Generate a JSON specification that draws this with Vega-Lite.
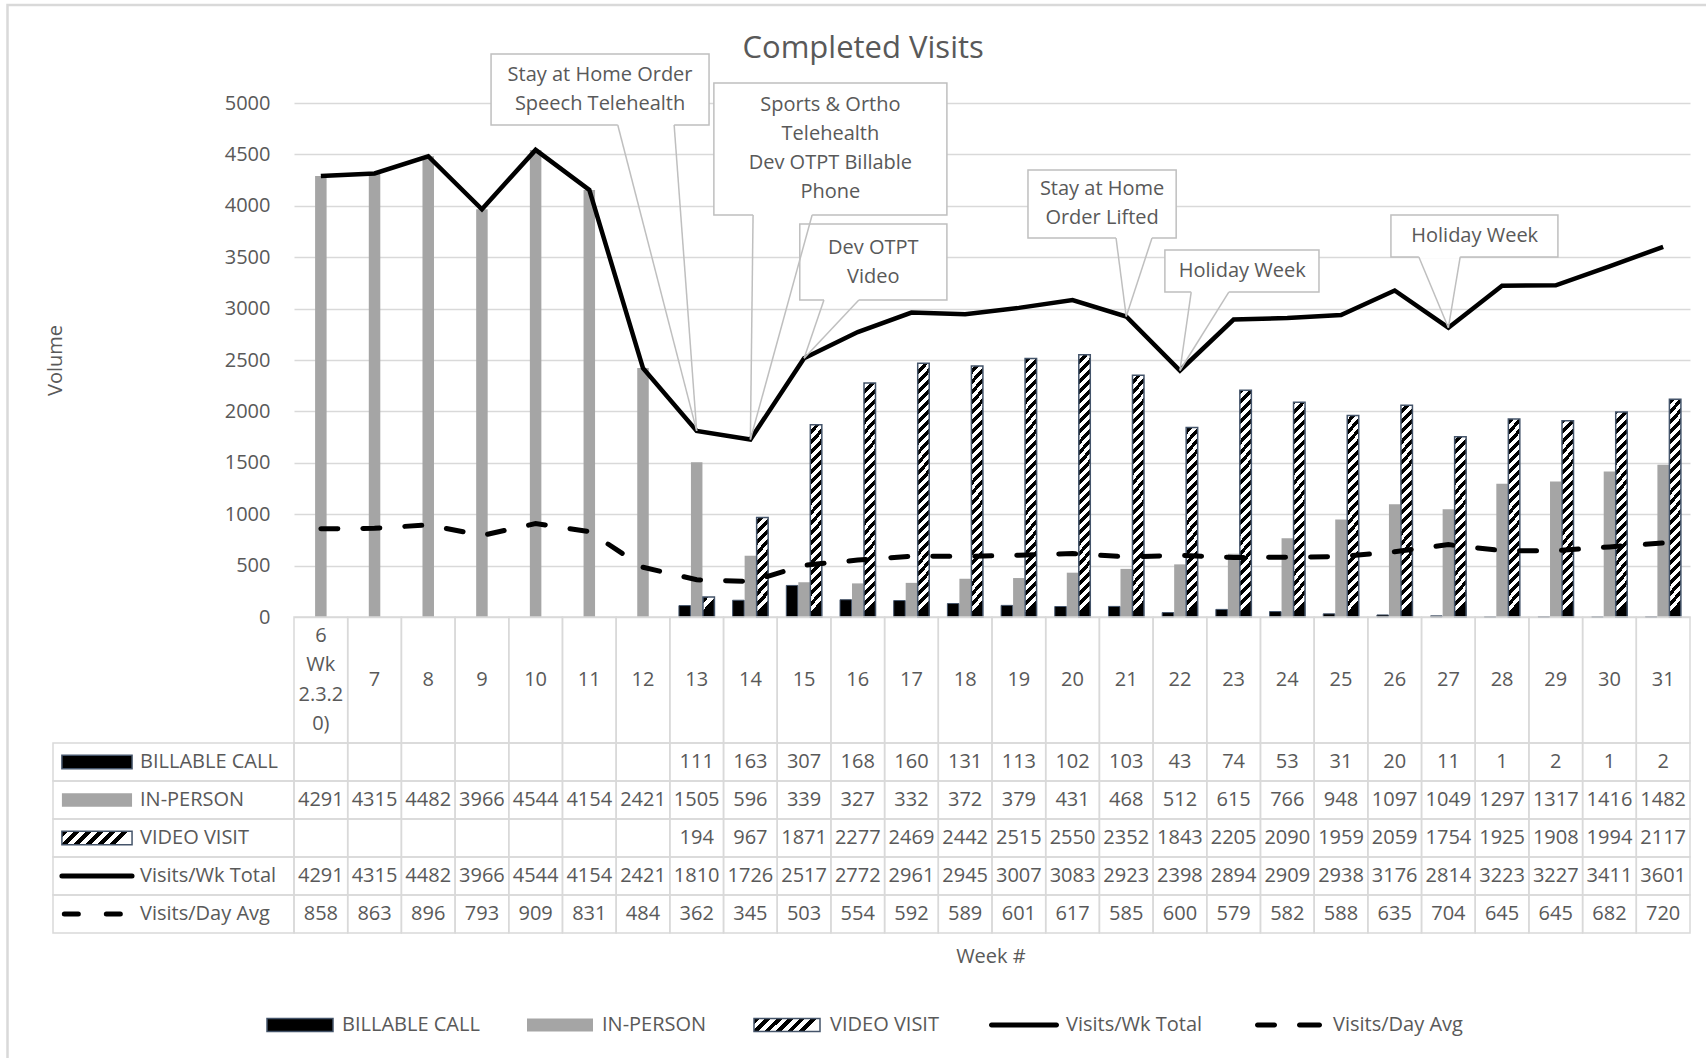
{
"$schema": "https://vega.github.io/schema/vega-lite/v6.json",
"width": 1396,
"height": 514,
"autosize": {"type": "none"},
"padding": {"left": 294, "top": 103, "right": 16, "bottom": 441},
"background": "#ffffff",
"config": {"view": {"stroke": null}, "font": "Open Sans"},
"datasets": {
"weeks": [
{"week":6,"label":"6|Wk|2.3.2|0)","inperson":4291,"total":4291,"avg":858},
{"week":7,"label":"7","inperson":4315,"total":4315,"avg":863},
{"week":8,"label":"8","inperson":4482,"total":4482,"avg":896},
{"week":9,"label":"9","inperson":3966,"total":3966,"avg":793},
{"week":10,"label":"10","inperson":4544,"total":4544,"avg":909},
{"week":11,"label":"11","inperson":4154,"total":4154,"avg":831},
{"week":12,"label":"12","inperson":2421,"total":2421,"avg":484},
{"week":13,"label":"13","billable":111,"inperson":1505,"video":194,"total":1810,"avg":362},
{"week":14,"label":"14","billable":163,"inperson":596,"video":967,"total":1726,"avg":345},
{"week":15,"label":"15","billable":307,"inperson":339,"video":1871,"total":2517,"avg":503},
{"week":16,"label":"16","billable":168,"inperson":327,"video":2277,"total":2772,"avg":554},
{"week":17,"label":"17","billable":160,"inperson":332,"video":2469,"total":2961,"avg":592},
{"week":18,"label":"18","billable":131,"inperson":372,"video":2442,"total":2945,"avg":589},
{"week":19,"label":"19","billable":113,"inperson":379,"video":2515,"total":3007,"avg":601},
{"week":20,"label":"20","billable":102,"inperson":431,"video":2550,"total":3083,"avg":617},
{"week":21,"label":"21","billable":103,"inperson":468,"video":2352,"total":2923,"avg":585},
{"week":22,"label":"22","billable":43,"inperson":512,"video":1843,"total":2398,"avg":600},
{"week":23,"label":"23","billable":74,"inperson":615,"video":2205,"total":2894,"avg":579},
{"week":24,"label":"24","billable":53,"inperson":766,"video":2090,"total":2909,"avg":582},
{"week":25,"label":"25","billable":31,"inperson":948,"video":1959,"total":2938,"avg":588},
{"week":26,"label":"26","billable":20,"inperson":1097,"video":2059,"total":3176,"avg":635},
{"week":27,"label":"27","billable":11,"inperson":1049,"video":1754,"total":2814,"avg":704},
{"week":28,"label":"28","billable":1,"inperson":1297,"video":1925,"total":3223,"avg":645},
{"week":29,"label":"29","billable":2,"inperson":1317,"video":1908,"total":3227,"avg":645},
{"week":30,"label":"30","billable":1,"inperson":1416,"video":1994,"total":3411,"avg":682},
{"week":31,"label":"31","billable":2,"inperson":1482,"video":2117,"total":3601,"avg":720}
],
"rows": [
{"series":"billable","name":"BILLABLE CALL"},
{"series":"inperson","name":"IN-PERSON"},
{"series":"video","name":"VIDEO VISIT"},
{"series":"total","name":"Visits/Wk Total"},
{"series":"avg","name":"Visits/Day Avg"}
],
"notes": [
{"text":"Stay at Home Order|Speech Telehealth","x0":9.17,"x1":13.23,"yt":5477,"yb":4786,"p1":11.53,"p2":12.58,"tw":13,"tv":1810,"xc":11.2,"ty":5272},
{"text":"Sports & Ortho|Telehealth|Dev OTPT Billable|Phone","x0":13.32,"x1":17.66,"yt":5195,"yb":3911,"p1":14.05,"p2":15.15,"tw":14,"tv":1726,"xc":15.49,"ty":4976},
{"text":"Dev OTPT|Video","x0":14.92,"x1":17.66,"yt":3823,"yb":3084,"p1":15.37,"p2":16.02,"tw":15,"tv":2517,"xc":16.29,"ty":3594},
{"text":"Stay at Home|Order Lifted","x0":19.17,"x1":21.93,"yt":4348,"yb":3687,"p1":20.81,"p2":21.48,"tw":21,"tv":2923,"xc":20.55,"ty":4159},
{"text":"Holiday Week","x0":21.72,"x1":24.59,"yt":3570,"yb":3161,"p1":22.21,"p2":22.91,"tw":22,"tv":2398,"xc":23.16,"ty":3366},
{"text":"Holiday Week","x0":25.93,"x1":29.04,"yt":3911,"yb":3502,"p1":26.45,"p2":27.22,"tw":27,"tv":2814,"xc":27.49,"ty":3706}
]
},
"resolve": {"scale": {"x": "independent", "y": "independent"}},
"layer": [
{
"data": {"name": "weeks"},
"mark": {"type": "bar", "width": 11.5, "fill": "#a5a5a5"},
"encoding": {
"x": {"field": "week", "type": "ordinal", "scale": {"type": "point", "domain": [6,7,8,9,10,11,12,13,14,15,16,17,18,19,20,21,22,23,24,25,26,27,28,29,30,31], "padding": 0.5}, "axis": null},
"y": {"field": "inperson", "type": "quantitative", "scale": {"domain": [0, 5000], "nice": false},
"axis": {"values": [0,500,1000,1500,2000,2500,3000,3500,4000,4500,5000], "format": "d", "grid": true, "gridColor": "#d9d9d9", "gridWidth": 1.5, "domain": false, "ticks": false, "tickSize": 0, "labelPadding": 24, "labelFont": "Open Sans", "labelFontSize": 20, "labelColor": "#595959", "title": "Volume", "titleFont": "Open Sans", "titleFontSize": 20, "titleFontWeight": "normal", "titleColor": "#595959", "titlePadding": 159}}
}
},
{
"data": {"name": "weeks"},
"mark": {"type": "bar", "width": 11.5, "xOffset": -12, "fill": "#000000", "stroke": "#44546a", "strokeWidth": 1},
"encoding": {
"x": {"field": "week", "type": "ordinal", "scale": {"type": "point", "domain": [6,7,8,9,10,11,12,13,14,15,16,17,18,19,20,21,22,23,24,25,26,27,28,29,30,31], "padding": 0.5}, "axis": null},
"y": {"field": "billable", "type": "quantitative", "scale": {"domain": [0, 5000], "nice": false}, "axis": null}
}
},
{
"data": {"name": "weeks"},
"mark": {"type": "bar", "width": 11.5, "xOffset": 12, "stroke": "#44546a", "strokeWidth": 1.5,
"fill": {"expr": "{gradient:'linear',x1:0,y1:1,x2:-117/datum.video,y2:0,stops:[{offset:0,color:'#000'},{offset:min(1,49/datum.video),color:'#000'},{offset:min(1,49/datum.video),color:'#fff'},{offset:min(1,98/datum.video),color:'#fff'},{offset:min(1,98/datum.video),color:'#000'},{offset:min(1,147/datum.video),color:'#000'},{offset:min(1,147/datum.video),color:'#fff'},{offset:min(1,196/datum.video),color:'#fff'},{offset:min(1,196/datum.video),color:'#000'},{offset:min(1,245/datum.video),color:'#000'},{offset:min(1,245/datum.video),color:'#fff'},{offset:min(1,294/datum.video),color:'#fff'},{offset:min(1,294/datum.video),color:'#000'},{offset:min(1,343/datum.video),color:'#000'},{offset:min(1,343/datum.video),color:'#fff'},{offset:min(1,392/datum.video),color:'#fff'},{offset:min(1,392/datum.video),color:'#000'},{offset:min(1,441/datum.video),color:'#000'},{offset:min(1,441/datum.video),color:'#fff'},{offset:min(1,490/datum.video),color:'#fff'},{offset:min(1,490/datum.video),color:'#000'},{offset:min(1,539/datum.video),color:'#000'},{offset:min(1,539/datum.video),color:'#fff'},{offset:min(1,588/datum.video),color:'#fff'},{offset:min(1,588/datum.video),color:'#000'},{offset:min(1,637/datum.video),color:'#000'},{offset:min(1,637/datum.video),color:'#fff'},{offset:min(1,686/datum.video),color:'#fff'},{offset:min(1,686/datum.video),color:'#000'},{offset:min(1,735/datum.video),color:'#000'},{offset:min(1,735/datum.video),color:'#fff'},{offset:min(1,784/datum.video),color:'#fff'},{offset:min(1,784/datum.video),color:'#000'},{offset:min(1,833/datum.video),color:'#000'},{offset:min(1,833/datum.video),color:'#fff'},{offset:min(1,882/datum.video),color:'#fff'},{offset:min(1,882/datum.video),color:'#000'},{offset:min(1,931/datum.video),color:'#000'},{offset:min(1,931/datum.video),color:'#fff'},{offset:min(1,980/datum.video),color:'#fff'},{offset:min(1,980/datum.video),color:'#000'},{offset:min(1,1029/datum.video),color:'#000'},{offset:min(1,1029/datum.video),color:'#fff'},{offset:min(1,1078/datum.video),color:'#fff'},{offset:min(1,1078/datum.video),color:'#000'},{offset:min(1,1127/datum.video),color:'#000'},{offset:min(1,1127/datum.video),color:'#fff'},{offset:min(1,1176/datum.video),color:'#fff'},{offset:min(1,1176/datum.video),color:'#000'},{offset:min(1,1225/datum.video),color:'#000'},{offset:min(1,1225/datum.video),color:'#fff'},{offset:min(1,1274/datum.video),color:'#fff'},{offset:min(1,1274/datum.video),color:'#000'},{offset:min(1,1323/datum.video),color:'#000'},{offset:min(1,1323/datum.video),color:'#fff'},{offset:min(1,1372/datum.video),color:'#fff'},{offset:min(1,1372/datum.video),color:'#000'},{offset:min(1,1421/datum.video),color:'#000'},{offset:min(1,1421/datum.video),color:'#fff'},{offset:min(1,1470/datum.video),color:'#fff'},{offset:min(1,1470/datum.video),color:'#000'},{offset:min(1,1519/datum.video),color:'#000'},{offset:min(1,1519/datum.video),color:'#fff'},{offset:min(1,1568/datum.video),color:'#fff'},{offset:min(1,1568/datum.video),color:'#000'},{offset:min(1,1617/datum.video),color:'#000'},{offset:min(1,1617/datum.video),color:'#fff'},{offset:min(1,1666/datum.video),color:'#fff'},{offset:min(1,1666/datum.video),color:'#000'},{offset:min(1,1715/datum.video),color:'#000'},{offset:min(1,1715/datum.video),color:'#fff'},{offset:min(1,1764/datum.video),color:'#fff'},{offset:min(1,1764/datum.video),color:'#000'},{offset:min(1,1813/datum.video),color:'#000'},{offset:min(1,1813/datum.video),color:'#fff'},{offset:min(1,1862/datum.video),color:'#fff'},{offset:min(1,1862/datum.video),color:'#000'},{offset:min(1,1911/datum.video),color:'#000'},{offset:min(1,1911/datum.video),color:'#fff'},{offset:min(1,1960/datum.video),color:'#fff'},{offset:min(1,1960/datum.video),color:'#000'},{offset:min(1,2009/datum.video),color:'#000'},{offset:min(1,2009/datum.video),color:'#fff'},{offset:min(1,2058/datum.video),color:'#fff'},{offset:min(1,2058/datum.video),color:'#000'},{offset:min(1,2107/datum.video),color:'#000'},{offset:min(1,2107/datum.video),color:'#fff'},{offset:min(1,2156/datum.video),color:'#fff'},{offset:min(1,2156/datum.video),color:'#000'},{offset:min(1,2205/datum.video),color:'#000'},{offset:min(1,2205/datum.video),color:'#fff'},{offset:min(1,2254/datum.video),color:'#fff'},{offset:min(1,2254/datum.video),color:'#000'},{offset:min(1,2303/datum.video),color:'#000'},{offset:min(1,2303/datum.video),color:'#fff'},{offset:min(1,2352/datum.video),color:'#fff'},{offset:min(1,2352/datum.video),color:'#000'},{offset:min(1,2401/datum.video),color:'#000'},{offset:min(1,2401/datum.video),color:'#fff'},{offset:min(1,2450/datum.video),color:'#fff'},{offset:min(1,2450/datum.video),color:'#000'},{offset:min(1,2499/datum.video),color:'#000'},{offset:min(1,2499/datum.video),color:'#fff'},{offset:min(1,2548/datum.video),color:'#fff'},{offset:min(1,2548/datum.video),color:'#000'},{offset:1,color:'#000'}]}"}},
"encoding": {
"x": {"field": "week", "type": "ordinal", "scale": {"type": "point", "domain": [6,7,8,9,10,11,12,13,14,15,16,17,18,19,20,21,22,23,24,25,26,27,28,29,30,31], "padding": 0.5}, "axis": null},
"y": {"field": "video", "type": "quantitative", "scale": {"domain": [0, 5000], "nice": false}, "axis": null}
}
},
{
"data": {"name": "weeks"},
"mark": {"type": "line", "stroke": "#000000", "strokeWidth": 4.5},
"encoding": {
"x": {"field": "week", "type": "ordinal", "scale": {"type": "point", "domain": [6,7,8,9,10,11,12,13,14,15,16,17,18,19,20,21,22,23,24,25,26,27,28,29,30,31], "padding": 0.5}, "axis": null},
"y": {"field": "total", "type": "quantitative", "scale": {"domain": [0, 5000], "nice": false}, "axis": null}
}
},
{
"data": {"name": "weeks"},
"mark": {"type": "line", "stroke": "#000000", "strokeWidth": 5, "strokeDash": [17, 25], "strokeCap": "round"},
"encoding": {
"x": {"field": "week", "type": "ordinal", "scale": {"type": "point", "domain": [6,7,8,9,10,11,12,13,14,15,16,17,18,19,20,21,22,23,24,25,26,27,28,29,30,31], "padding": 0.5}, "axis": null},
"y": {"field": "avg", "type": "quantitative", "scale": {"domain": [0, 5000], "nice": false}, "axis": null}
}
},
{
"data": {"name": "weeks"},
"mark": {"type": "rect", "fill": "transparent", "stroke": "#d9d9d9", "strokeWidth": 1.5},
"encoding": {
"x": {"field": "week", "type": "ordinal", "scale": {"type": "band", "domain": [6,7,8,9,10,11,12,13,14,15,16,17,18,19,20,21,22,23,24,25,26,27,28,29,30,31], "paddingInner": 0, "paddingOuter": 0}, "axis": null},
"y": {"datum": "h", "type": "nominal", "scale": {"type": "band", "domain": ["h"], "range": [514, 640], "paddingInner": 0, "paddingOuter": 0}, "axis": null}
}
},
{
"data": {"name": "weeks"},
"mark": {"type": "text", "font": "Open Sans", "fontSize": 20, "fill": "#595959", "align": "center", "baseline": "middle", "lineBreak": "|", "lineHeight": 29.5, "dy": {"expr": "datum.week == 6 ? -44.25 : 0"}},
"encoding": {
"x": {"field": "week", "type": "ordinal", "scale": {"type": "point", "domain": [6,7,8,9,10,11,12,13,14,15,16,17,18,19,20,21,22,23,24,25,26,27,28,29,30,31], "padding": 0.5}, "axis": null},
"y": {"datum": "h", "type": "nominal", "scale": {"type": "point", "domain": ["h"], "range": [514, 640], "padding": 0.5}, "axis": null},
"text": {"field": "label", "type": "nominal"}
}
},
{
"data": {"name": "weeks"},
"transform": [{"fold": ["billable", "inperson", "video", "total", "avg"], "as": ["series", "value"]}],
"mark": {"type": "rect", "fill": "transparent", "stroke": "#d9d9d9", "strokeWidth": 1.5},
"encoding": {
"x": {"field": "week", "type": "ordinal", "scale": {"type": "band", "domain": [6,7,8,9,10,11,12,13,14,15,16,17,18,19,20,21,22,23,24,25,26,27,28,29,30,31], "paddingInner": 0, "paddingOuter": 0}, "axis": null},
"y": {"field": "series", "type": "nominal", "scale": {"type": "band", "domain": ["billable", "inperson", "video", "total", "avg"], "range": [640, 830], "paddingInner": 0, "paddingOuter": 0}, "axis": null}
}
},
{
"data": {"name": "weeks"},
"transform": [{"fold": ["billable", "inperson", "video", "total", "avg"], "as": ["series", "value"]}, {"filter": {"field": "value", "valid": true}}],
"mark": {"type": "text", "font": "Open Sans", "fontSize": 20, "fill": "#595959", "align": "center", "baseline": "middle"},
"encoding": {
"x": {"field": "week", "type": "ordinal", "scale": {"type": "point", "domain": [6,7,8,9,10,11,12,13,14,15,16,17,18,19,20,21,22,23,24,25,26,27,28,29,30,31], "padding": 0.5}, "axis": null},
"y": {"field": "series", "type": "nominal", "scale": {"type": "point", "domain": ["billable", "inperson", "video", "total", "avg"], "range": [640, 830], "padding": 0.5}, "axis": null},
"text": {"field": "value", "type": "quantitative", "format": "d"}
}
},
{
"data": {"name": "rows"},
"mark": {"type": "rect", "fill": "transparent", "stroke": "#d9d9d9", "strokeWidth": 1.5},
"encoding": {
"x": {"datum": 0, "type": "quantitative", "scale": {"domain": [0, 1], "range": [-241, 0], "nice": false, "zero": false}, "axis": null},
"x2": {"datum": 1},
"y": {"field": "series", "type": "nominal", "scale": {"type": "band", "domain": ["billable", "inperson", "video", "total", "avg"], "range": [640, 830], "paddingInner": 0, "paddingOuter": 0}, "axis": null}
}
},
{
"data": {"name": "rows"},
"mark": {"type": "text", "font": "Open Sans", "fontSize": 20, "fill": "#595959", "align": "left", "baseline": "middle"},
"encoding": {
"x": {"datum": 0.361, "type": "quantitative", "scale": {"domain": [0, 1], "range": [-241, 0], "nice": false, "zero": false}, "axis": null},
"y": {"field": "series", "type": "nominal", "scale": {"type": "point", "domain": ["billable", "inperson", "video", "total", "avg"], "range": [640, 830], "padding": 0.5}, "axis": null},
"text": {"field": "name", "type": "nominal"}
}
},
{
"data": {"name": "rows"},
"transform": [{"filter": "datum.series == 'billable'"}],
"mark": {"type": "rect", "fill": "#000000", "stroke": "#44546a", "strokeWidth": 1.5},
"encoding": {
"x": {"datum": 0.037, "type": "quantitative", "scale": {"domain": [0, 1], "range": [-241, 0], "nice": false, "zero": false}, "axis": null},
"x2": {"datum": 0.328},
"y": {"field": "series", "type": "nominal", "scale": {"type": "band", "domain": ["billable", "inperson", "video", "total", "avg"], "range": [640, 830], "paddingInner": 0.65, "paddingOuter": 0.325}, "axis": null}
}
},
{
"data": {"name": "rows"},
"transform": [{"filter": "datum.series == 'inperson'"}],
"mark": {"type": "rect", "fill": "#a5a5a5"},
"encoding": {
"x": {"datum": 0.037, "type": "quantitative", "scale": {"domain": [0, 1], "range": [-241, 0], "nice": false, "zero": false}, "axis": null},
"x2": {"datum": 0.328},
"y": {"field": "series", "type": "nominal", "scale": {"type": "band", "domain": ["billable", "inperson", "video", "total", "avg"], "range": [640, 830], "paddingInner": 0.65, "paddingOuter": 0.325}, "axis": null}
}
},
{
"data": {"name": "rows"},
"transform": [{"filter": "datum.series == 'video'"}],
"mark": {"type": "rect", "stroke": "#44546a", "strokeWidth": 1.5,
"fill": {"gradient": "linear", "x1": 0, "y1": 0, "x2": 1, "y2": 0.19, "stops": [{"offset":0,"color":"#000"},{"offset":0.0833,"color":"#000"},{"offset":0.0833,"color":"#fff"},{"offset":0.1667,"color":"#fff"},{"offset":0.1667,"color":"#000"},{"offset":0.25,"color":"#000"},{"offset":0.25,"color":"#fff"},{"offset":0.3333,"color":"#fff"},{"offset":0.3333,"color":"#000"},{"offset":0.4167,"color":"#000"},{"offset":0.4167,"color":"#fff"},{"offset":0.5,"color":"#fff"},{"offset":0.5,"color":"#000"},{"offset":0.5833,"color":"#000"},{"offset":0.5833,"color":"#fff"},{"offset":0.6667,"color":"#fff"},{"offset":0.6667,"color":"#000"},{"offset":0.75,"color":"#000"},{"offset":0.75,"color":"#fff"},{"offset":0.8333,"color":"#fff"},{"offset":0.8333,"color":"#000"},{"offset":0.9167,"color":"#000"},{"offset":0.9167,"color":"#fff"},{"offset":1,"color":"#fff"}]}},
"encoding": {
"x": {"datum": 0.037, "type": "quantitative", "scale": {"domain": [0, 1], "range": [-241, 0], "nice": false, "zero": false}, "axis": null},
"x2": {"datum": 0.328},
"y": {"field": "series", "type": "nominal", "scale": {"type": "band", "domain": ["billable", "inperson", "video", "total", "avg"], "range": [640, 830], "paddingInner": 0.65, "paddingOuter": 0.325}, "axis": null}
}
},
{
"data": {"name": "rows"},
"transform": [{"filter": "datum.series == 'total'"}],
"mark": {"type": "rule", "stroke": "#000000", "strokeWidth": 5, "strokeCap": "round"},
"encoding": {
"x": {"datum": 0.037, "type": "quantitative", "scale": {"domain": [0, 1], "range": [-241, 0], "nice": false, "zero": false}, "axis": null},
"x2": {"datum": 0.328},
"y": {"field": "series", "type": "nominal", "scale": {"type": "point", "domain": ["billable", "inperson", "video", "total", "avg"], "range": [640, 830], "padding": 0.5}, "axis": null}
}
},
{
"data": {"name": "rows"},
"transform": [{"filter": "datum.series == 'avg'"}],
"mark": {"type": "rule", "stroke": "#000000", "strokeWidth": 5, "strokeCap": "round", "strokeDash": [14, 28]},
"encoding": {
"x": {"datum": 0.047, "type": "quantitative", "scale": {"domain": [0, 1], "range": [-241, 0], "nice": false, "zero": false}, "axis": null},
"x2": {"datum": 0.328},
"y": {"field": "series", "type": "nominal", "scale": {"type": "point", "domain": ["billable", "inperson", "video", "total", "avg"], "range": [640, 830], "padding": 0.5}, "axis": null}
}
},
{
"data": {"name": "notes"},
"mark": {"type": "rect", "fill": "#ffffff", "stroke": "#bfbfbf", "strokeWidth": 1.5},
"encoding": {
"x": {"field": "x0", "type": "quantitative", "scale": {"domain": [5.5, 31.5], "nice": false, "zero": false}, "axis": null},
"x2": {"field": "x1"},
"y": {"field": "yb", "type": "quantitative", "scale": {"domain": [0, 5000], "nice": false, "zero": false}, "axis": null},
"y2": {"field": "yt"}
}
},
{
"data": {"name": "notes"},
"mark": {"type": "rule", "stroke": "#ffffff", "strokeWidth": 3},
"encoding": {
"x": {"field": "p1", "type": "quantitative", "scale": {"domain": [5.5, 31.5], "nice": false, "zero": false}, "axis": null},
"x2": {"field": "p2"},
"y": {"field": "yb", "type": "quantitative", "scale": {"domain": [0, 5000], "nice": false, "zero": false}, "axis": null}
}
},
{
"data": {"name": "notes"},
"mark": {"type": "rule", "stroke": "#bfbfbf", "strokeWidth": 1.5},
"encoding": {
"x": {"field": "p1", "type": "quantitative", "scale": {"domain": [5.5, 31.5], "nice": false, "zero": false}, "axis": null},
"x2": {"field": "tw"},
"y": {"field": "yb", "type": "quantitative", "scale": {"domain": [0, 5000], "nice": false, "zero": false}, "axis": null},
"y2": {"field": "tv"}
}
},
{
"data": {"name": "notes"},
"mark": {"type": "rule", "stroke": "#bfbfbf", "strokeWidth": 1.5},
"encoding": {
"x": {"field": "p2", "type": "quantitative", "scale": {"domain": [5.5, 31.5], "nice": false, "zero": false}, "axis": null},
"x2": {"field": "tw"},
"y": {"field": "yb", "type": "quantitative", "scale": {"domain": [0, 5000], "nice": false, "zero": false}, "axis": null},
"y2": {"field": "tv"}
}
},
{
"data": {"name": "notes"},
"mark": {"type": "text", "font": "Open Sans", "fontSize": 20, "fill": "#595959", "align": "center", "baseline": "middle", "lineBreak": "|", "lineHeight": 29},
"encoding": {
"x": {"field": "xc", "type": "quantitative", "scale": {"domain": [5.5, 31.5], "nice": false, "zero": false}, "axis": null},
"y": {"field": "ty", "type": "quantitative", "scale": {"domain": [0, 5000], "nice": false, "zero": false}, "axis": null},
"text": {"field": "text", "type": "nominal"}
}
},
{
"data": {"values": [{"t": "Completed Visits"}]},
"mark": {"type": "text", "font": "Open Sans", "fontSize": 31, "fill": "#595959", "align": "center", "baseline": "alphabetic"},
"encoding": {
"x": {"datum": 16.1, "type": "quantitative", "scale": {"domain": [5.5, 31.5], "nice": false, "zero": false}, "axis": null},
"y": {"datum": 5438, "type": "quantitative", "scale": {"domain": [0, 5000], "nice": false, "zero": false}, "axis": null},
"text": {"field": "t", "type": "nominal"}
}
},
{
"data": {"values": [{"t": "Week #"}]},
"mark": {"type": "text", "font": "Open Sans", "fontSize": 20, "fill": "#595959", "align": "center", "baseline": "alphabetic"},
"encoding": {
"x": {"datum": 18.48, "type": "quantitative", "scale": {"domain": [5.5, 31.5], "nice": false, "zero": false}, "axis": null},
"y": {"datum": -3366, "type": "quantitative", "scale": {"domain": [0, 5000], "nice": false, "zero": false}, "axis": null},
"text": {"field": "t", "type": "nominal"}
}
},
{
"data": {"values": [{}]},
"mark": {"type": "rect", "fill": "transparent", "stroke": "#d9d9d9", "strokeWidth": 2.5},
"encoding": {
"x": {"datum": 0.164, "type": "quantitative", "scale": {"domain": [5.5, 31.5], "nice": false, "zero": false}, "axis": null},
"x2": {"datum": 32.6},
"y": {"datum": 5953, "type": "quantitative", "scale": {"domain": [0, 5000], "nice": false, "zero": false}, "axis": null},
"y2": {"datum": -4600}
}
},
{
"data": {"name": "rows"},
"transform": [{"filter": "datum.series == 'billable'"}],
"mark": {"type": "rect", "width": 66, "height": 13, "xOffset": 33, "fill": "#000000", "stroke": "#44546a", "strokeWidth": 1.5},
"encoding": {
"x": {"field": "series", "type": "nominal", "scale": {"type": "point", "domain": ["billable", "inperson", "video", "total", "avg"], "range": [-27, 961], "padding": 0}, "axis": null},
"y": {"datum": "lg", "type": "nominal", "scale": {"type": "point", "domain": ["lg"], "range": [900, 944], "padding": 0.5}, "axis": null}
}
},
{
"data": {"name": "rows"},
"transform": [{"filter": "datum.series == 'inperson'"}],
"mark": {"type": "rect", "width": 66, "height": 13, "xOffset": 46, "fill": "#a5a5a5"},
"encoding": {
"x": {"field": "series", "type": "nominal", "scale": {"type": "point", "domain": ["billable", "inperson", "video", "total", "avg"], "range": [-27, 961], "padding": 0}, "axis": null},
"y": {"datum": "lg", "type": "nominal", "scale": {"type": "point", "domain": ["lg"], "range": [900, 944], "padding": 0.5}, "axis": null}
}
},
{
"data": {"name": "rows"},
"transform": [{"filter": "datum.series == 'video'"}],
"mark": {"type": "rect", "width": 66, "height": 13, "xOffset": 26, "stroke": "#44546a", "strokeWidth": 1.5,
"fill": {"gradient": "linear", "x1": 0, "y1": 0, "x2": 1, "y2": 0.2, "stops": [{"offset":0,"color":"#000"},{"offset":0.0833,"color":"#000"},{"offset":0.0833,"color":"#fff"},{"offset":0.1667,"color":"#fff"},{"offset":0.1667,"color":"#000"},{"offset":0.25,"color":"#000"},{"offset":0.25,"color":"#fff"},{"offset":0.3333,"color":"#fff"},{"offset":0.3333,"color":"#000"},{"offset":0.4167,"color":"#000"},{"offset":0.4167,"color":"#fff"},{"offset":0.5,"color":"#fff"},{"offset":0.5,"color":"#000"},{"offset":0.5833,"color":"#000"},{"offset":0.5833,"color":"#fff"},{"offset":0.6667,"color":"#fff"},{"offset":0.6667,"color":"#000"},{"offset":0.75,"color":"#000"},{"offset":0.75,"color":"#fff"},{"offset":0.8333,"color":"#fff"},{"offset":0.8333,"color":"#000"},{"offset":0.9167,"color":"#000"},{"offset":0.9167,"color":"#fff"},{"offset":1,"color":"#fff"}]}},
"encoding": {
"x": {"field": "series", "type": "nominal", "scale": {"type": "point", "domain": ["billable", "inperson", "video", "total", "avg"], "range": [-27, 961], "padding": 0}, "axis": null},
"y": {"datum": "lg", "type": "nominal", "scale": {"type": "point", "domain": ["lg"], "range": [900, 944], "padding": 0.5}, "axis": null}
}
},
{
"data": {"name": "rows"},
"transform": [{"filter": "datum.series == 'total'"}],
"mark": {"type": "rect", "width": 70, "height": 5, "xOffset": 16, "fill": "#000000", "cornerRadius": 2.5},
"encoding": {
"x": {"field": "series", "type": "nominal", "scale": {"type": "point", "domain": ["billable", "inperson", "video", "total", "avg"], "range": [-27, 961], "padding": 0}, "axis": null},
"y": {"datum": "lg", "type": "nominal", "scale": {"type": "point", "domain": ["lg"], "range": [900, 944], "padding": 0.5}, "axis": null}
}
},
{
"data": {"name": "rows"},
"transform": [{"filter": "datum.series == 'avg'"}],
"mark": {"type": "rect", "width": 22, "height": 5, "xOffset": 11, "fill": "#000000", "cornerRadius": 2.5},
"encoding": {
"x": {"field": "series", "type": "nominal", "scale": {"type": "point", "domain": ["billable", "inperson", "video", "total", "avg"], "range": [-27, 961], "padding": 0}, "axis": null},
"y": {"datum": "lg", "type": "nominal", "scale": {"type": "point", "domain": ["lg"], "range": [900, 944], "padding": 0.5}, "axis": null}
}
},
{
"data": {"name": "rows"},
"transform": [{"filter": "datum.series == 'avg'"}],
"mark": {"type": "rect", "width": 25, "height": 5, "xOffset": 54.5, "fill": "#000000", "cornerRadius": 2.5},
"encoding": {
"x": {"field": "series", "type": "nominal", "scale": {"type": "point", "domain": ["billable", "inperson", "video", "total", "avg"], "range": [-27, 961], "padding": 0}, "axis": null},
"y": {"datum": "lg", "type": "nominal", "scale": {"type": "point", "domain": ["lg"], "range": [900, 944], "padding": 0.5}, "axis": null}
}
},
{
"data": {"name": "rows"},
"mark": {"type": "text", "font": "Open Sans", "fontSize": 20, "fill": "#595959", "align": "left", "baseline": "middle",
"dx": {"expr": "datum.series == 'inperson' ? 88 : datum.series == 'video' ? 69 : datum.series == 'total' ? 58 : datum.series == 'avg' ? 78 : 75"}},
"encoding": {
"x": {"field": "series", "type": "nominal", "scale": {"type": "point", "domain": ["billable", "inperson", "video", "total", "avg"], "range": [-27, 961], "padding": 0}, "axis": null},
"y": {"datum": "lg", "type": "nominal", "scale": {"type": "point", "domain": ["lg"], "range": [900, 944], "padding": 0.5}, "axis": null},
"text": {"field": "name", "type": "nominal"}
}
}
]
}
